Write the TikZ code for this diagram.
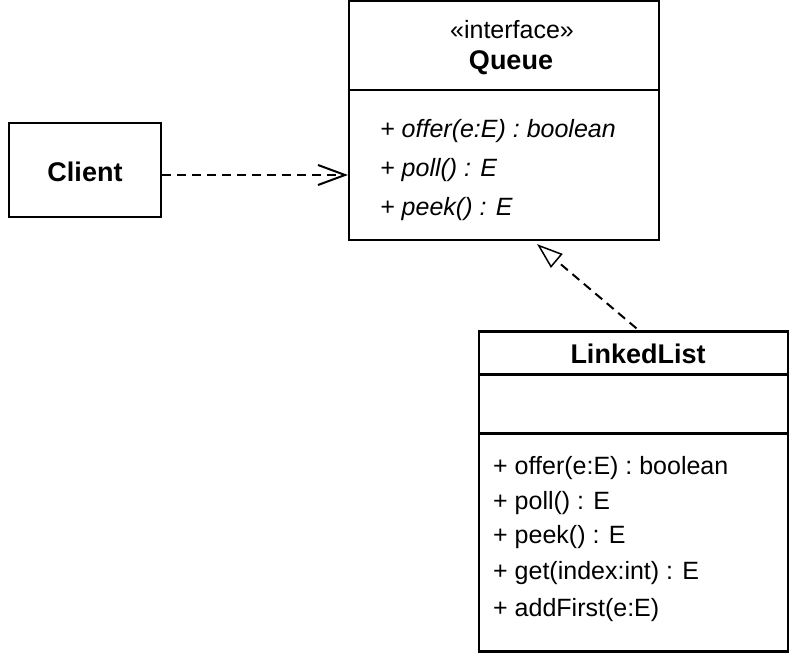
\documentclass[tikz,border=0pt]{standalone}
\usepackage{fontspec}
\setmainfont{Liberation Sans}
\usetikzlibrary{arrows.meta,calc}
\begin{document}
\begin{tikzpicture}[x=1pt,y=-1pt,
  box/.style={draw=black,line width=2.2pt,inner sep=0pt},
  txt/.style={inner sep=0pt,font=\fontsize{25}{30}\selectfont},
  ttl/.style={inner sep=0pt,font=\fontsize{27}{30}\selectfont\bfseries},
  meth/.style={txt,anchor=west},
  imeth/.style={txt,anchor=west,font=\fontsize{25}{30}\selectfont\itshape},
  divider/.style={draw=black,line width=2.2pt},
  dep/.style={draw=black,line width=2pt,dash pattern=on 9pt off 6pt,-{Straight Barb[length=27pt,width=20pt,line width=2pt]}},
  real/.style={draw=black,line width=2pt,dash pattern=on 9pt off 6pt,-{Triangle[open,length=26pt,width=18pt,line width=1.5pt,fill=white]}}
]
\useasboundingbox (0,0) rectangle (800,661);
% Client
\node[box,minimum width=152pt,minimum height=94pt] (client) at (85,170) {};
\node[ttl] (clientname) at (85,172) {Client};
% Queue
\node[box,minimum width=310pt,minimum height=239pt] (queue) at (504,120.5) {};
\draw[divider] ($(queue.north west)+(0,90)$) -- ($(queue.north east)+(0,90)$);
\node[txt] (stereo) at (512,30) {«interface»};
\node[ttl] (queuename) at (511,63) {Queue};
\node[imeth] (q1) at (380,131) {+ offer(e:E) : boolean};
\node[imeth] (q2) at (380,170) {+ poll() : E};
\node[imeth] (q3) at (380,209) {+ peek() : E};
% LinkedList
\node[box,minimum width=309pt,minimum height=320pt] (ll) at (633.5,491.5) {};
\draw[divider] ($(ll.north west)+(0,44)$) -- ($(ll.north east)+(0,44)$);
\draw[divider] ($(ll.north west)+(0,103)$) -- ($(ll.north east)+(0,103)$);
\node[ttl] (llname) at (638,354) {LinkedList};
\node[meth] (l1) at (493,468) {+ offer(e:E) : boolean};
\node[meth] (l2) at (493,503) {+ poll() : E};
\node[meth] (l3) at (493,537) {+ peek() : E};
\node[meth] (l4) at (493,573) {+ get(index:int) : E};
\node[meth] (l5) at (493,610) {+ addFirst(e:E)};
% connectors
\draw[dep] ($(client.east)+(0,5)$) -- ($(queue.west)+(0,54.5)$);
\draw[real] ($(ll.north)+(3,-2)$) -- ($(queue.south)+(33,3)$);
\end{tikzpicture}
\end{document}
